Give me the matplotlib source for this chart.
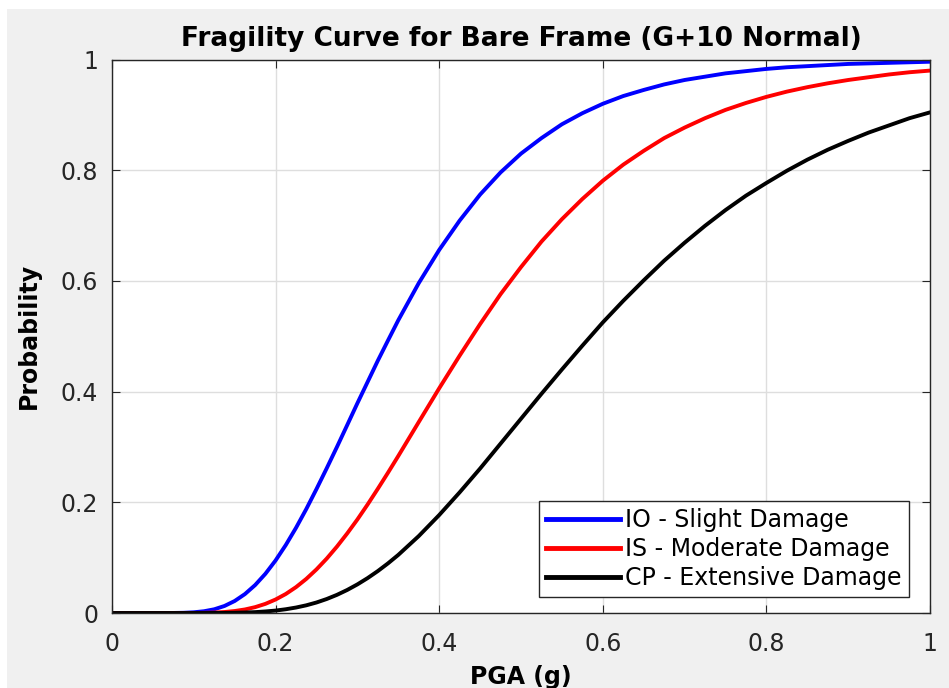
import matplotlib.pyplot as plt
from matplotlib.patches import Rectangle
from matplotlib.ticker import FuncFormatter

# values (finer PGA step at the foot of the curves)
pga = [0.0, 0.025, 0.05, 0.075, 0.0875, 0.1, 0.1125, 0.125, 0.1375, 0.15,
       0.1625, 0.175, 0.1875, 0.2, 0.2125, 0.225, 0.2375, 0.25, 0.2625, 0.275,
       0.2875, 0.3, 0.3125, 0.325, 0.3375, 0.35, 0.375, 0.4, 0.425, 0.45,
       0.475, 0.5, 0.525, 0.55, 0.575, 0.6, 0.625, 0.65, 0.675, 0.7,
       0.725, 0.75, 0.775, 0.8, 0.825, 0.85, 0.875, 0.9, 0.925, 0.95,
       0.975, 1.0]

io_slight = [0.0, 0.0, 0.0, 0.0001, 0.0004, 0.0013, 0.0032, 0.0067, 0.0127, 0.0217,
             0.0342, 0.0505, 0.0708, 0.095, 0.1229, 0.154, 0.1878, 0.224, 0.2615, 0.300,
             0.3394, 0.379, 0.4175, 0.456, 0.4927, 0.529, 0.596, 0.656, 0.709, 0.756,
             0.796, 0.830, 0.858, 0.883, 0.903, 0.920, 0.934, 0.945, 0.955, 0.963,
             0.969, 0.975, 0.979, 0.983, 0.986, 0.988, 0.990, 0.992, 0.993, 0.994,
             0.995, 0.996]

is_moderate = [0.0, 0.0, 0.0, 0.0, 0.0, 0.0001, 0.0003, 0.0008, 0.0018, 0.0036,
               0.0064, 0.0106, 0.0165, 0.0244, 0.0344, 0.0468, 0.0616, 0.0788, 0.0983, 0.120,
               0.1437, 0.169, 0.1961, 0.2245, 0.2537, 0.2837, 0.345, 0.406, 0.465, 0.522,
               0.576, 0.625, 0.671, 0.7115, 0.748, 0.781, 0.810, 0.835, 0.858, 0.877,
               0.894, 0.909, 0.9215, 0.9325, 0.942, 0.950, 0.957, 0.963, 0.968, 0.973,
               0.977, 0.980]

cp_extensive = [0.0, 0.0, 0.0, 0.0, 0.0, 0.0, 0.0, 0.0001, 0.0002, 0.0005,
                0.0009, 0.0016, 0.0028, 0.0044, 0.0068, 0.0099, 0.0139, 0.019, 0.0253, 0.0328,
                0.0416, 0.0517, 0.0631, 0.0758, 0.0898, 0.105, 0.139, 0.177, 0.218, 0.261,
                0.306, 0.351, 0.396, 0.440, 0.483, 0.525, 0.564, 0.601, 0.6365, 0.669,
                0.6996, 0.728, 0.754, 0.777, 0.799, 0.819, 0.837, 0.853, 0.868, 0.881,
                0.894, 0.9045]

labels = ['IO - Slight Damage', 'IS - Moderate Damage', 'CP - Extensive Damage']
ticks = [0, 0.2, 0.4, 0.6, 0.8, 1]

plt.rcParams['font.family'] = ['DejaVu Sans']

fig = plt.figure(figsize=(9.49, 6.88), dpi=100, facecolor='#f0f0f0')
# white screenshot border on the top and left
fig.patches.append(Rectangle((0, 0), 7 / 949, 1, transform=fig.transFigure,
                             facecolor='white', edgecolor='none', zorder=0))
fig.patches.append(Rectangle((0, 1 - 9 / 688), 1, 9 / 688, transform=fig.transFigure,
                             facecolor='white', edgecolor='none', zorder=0))

ax = fig.add_axes([0.118, 0.109, 0.862, 0.8045])

ax.plot(pga, io_slight, color='blue', lw=2.8, label=labels[0])
ax.plot(pga, is_moderate, color='red', lw=2.8, label=labels[1])
ax.plot(pga, cp_extensive, color='black', lw=2.8, label=labels[2])

ax.set_xlim(0, 1)
ax.set_ylim(0, 1)
ax.set_xticks(ticks)
ax.set_yticks(ticks)
fmt = FuncFormatter(lambda v, p: '%g' % v)
ax.xaxis.set_major_formatter(fmt)
ax.yaxis.set_major_formatter(fmt)
ax.tick_params(direction='in', length=6, width=0.8, colors='#262626',
               labelsize=17, top=True, right=True)
ax.tick_params(axis='x', pad=14)
ax.tick_params(axis='y', pad=10)
ax.grid(True, color='#dedede', lw=1)
ax.set_axisbelow(True)
for s in ax.spines.values():
    s.set_color('#262626')
    s.set_linewidth(1)

ax.set_title('Fragility Curve for Bare Frame (G+10 Normal)',
             fontsize=19, fontweight='bold', pad=10)
ax.set_xlabel('PGA (g)', fontsize=17, fontweight='bold', labelpad=6)
ax.set_ylabel('Probability', fontsize=17, fontweight='bold', labelpad=14)

leg = ax.legend(loc='lower right', bbox_to_anchor=(0.9743, 0.029),
                borderaxespad=0, fontsize=17, handlelength=3.1,
                handletextpad=0.25, labelspacing=0.2, borderpad=0.3,
                fancybox=False, framealpha=1)
leg.get_frame().set_edgecolor('#262626')
leg.get_frame().set_linewidth(1)
for h in leg.get_lines():
    h.set_linewidth(3.5)

fig.savefig('out.png', dpi=100, facecolor=fig.get_facecolor())
